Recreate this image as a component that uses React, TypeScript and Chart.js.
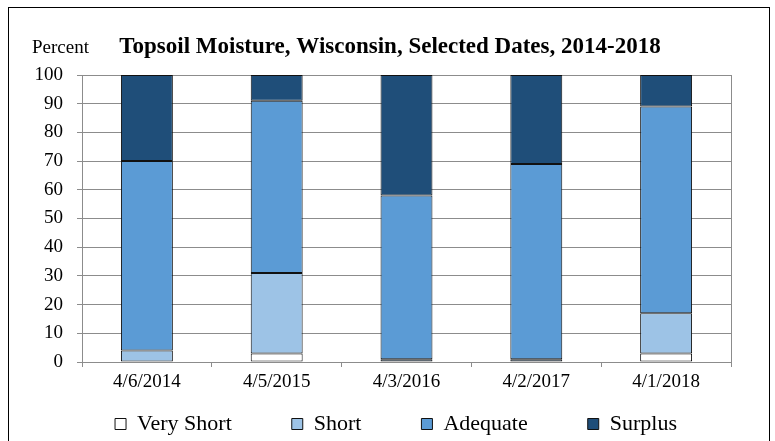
import React, { useEffect, useRef } from 'react';
import { Chart, registerables } from 'chart.js';

Chart.register(...registerables);

// ---- data ----
const categories = ['4/6/2014', '4/5/2015', '4/3/2016', '4/2/2017', '4/1/2018'];
const veryShort = [0, 3, 0, 0, 3];
const short = [4, 28, 1, 1, 14];
const adequate = [66, 60, 57, 68, 72];
const surplus = [30, 9, 42, 31, 11];
const seriesNames = ['Very Short', 'Short', 'Adequate', 'Surplus'];
const yMin = 0;
const yMax = 100;
const yStep = 10;
const chartTitle = 'Topsoil Moisture, Wisconsin, Selected Dates, 2014-2018';
const yUnitLabel = 'Percent';

// ---- style ----
const COLORS = ['#FFFFFF', '#9DC3E6', '#5B9BD5', '#1F4E79'];
const GRID = '#8C8C8C';
const FONT = "'Liberation Serif', 'Times New Roman', serif";
const LEGEND_PAD = 60;
const LEGEND_SHIFT_X = 21;

const titlePlugin = {
  id: 'titleAndBorder',
  afterDraw(chart: any) {
    const { ctx, chartArea } = chart;
    ctx.save();
    ctx.strokeStyle = GRID;
    ctx.lineWidth = 1;
    ctx.beginPath();
    const x = Math.round(chartArea.right) + 0.5;
    ctx.moveTo(x, chartArea.top);
    ctx.lineTo(x, chartArea.bottom);
    ctx.stroke();
    ctx.fillStyle = '#000';
    ctx.textBaseline = 'alphabetic';
    ctx.font = `bold 23px ${FONT}`;
    ctx.textAlign = 'center';
    ctx.fillText(chartTitle, 381, 45);
    ctx.font = `19px ${FONT}`;
    ctx.textAlign = 'left';
    ctx.fillText(yUnitLabel, 23, 45);
    ctx.restore();
  },
};

const legendLift = {
  id: 'legendLift',
  afterLayout(chart: any) {
    const lg = chart.legend;
    if (lg) {
      lg.top -= LEGEND_PAD;
      lg.left += LEGEND_SHIFT_X;
      lg.right += LEGEND_SHIFT_X;
    }
  },
};

export default function App() {
  const ref = useRef<HTMLCanvasElement | null>(null);

  useEffect(() => {
    if (!ref.current) return;
    const values = [veryShort, short, adequate, surplus];
    const chart = new Chart(ref.current, {
      type: 'bar',
      data: {
        labels: categories,
        datasets: seriesNames.map((name, i) => ({
          label: name,
          data: values[i],
          backgroundColor: COLORS[i],
          borderColor: '#111111',
          borderWidth: 1,
          borderSkipped: false,
          barPercentage: 0.4,
          categoryPercentage: 1,
        })),
      },
      options: {
        responsive: false,
        animation: false,
        devicePixelRatio: 1,
        color: '#000',
        font: { family: FONT },
        layout: { padding: { left: 10, right: 38, top: 67, bottom: 0 } },
        plugins: {
          title: { display: false },
          tooltip: { enabled: false },
          legend: {
            display: true,
            position: 'bottom',
            maxHeight: 32,
            labels: {
              boxWidth: 11,
              boxHeight: 11,
              padding: LEGEND_PAD,
              color: '#000',
              font: { family: FONT, size: 22 },
            },
          },
        },
        scales: {
          x: {
            stacked: true,
            grid: {
              display: true,
              drawOnChartArea: false,
              drawTicks: true,
              tickLength: 5,
              color: GRID,
              offset: true,
            },
            border: { display: true, color: GRID },
            ticks: {
              color: '#000',
              font: { family: FONT, size: 19 },
              padding: 4,
              maxRotation: 0,
            },
            afterFit: (scale: any) => {
              scale.height = 51;
            },
          },
          y: {
            stacked: true,
            min: yMin,
            max: yMax,
            grid: {
              color: GRID,
              tickLength: 5,
              drawTicks: true,
            },
            border: { display: true, color: GRID },
            ticks: {
              stepSize: yStep,
              color: '#000',
              font: { family: FONT, size: 19 },
              padding: 14,
            },
            afterFit: (scale: any) => {
              scale.width = 63;
            },
          },
        },
      },
      plugins: [titlePlugin, legendLift],
    });
    return () => chart.destroy();
  }, []);

  return (
    <div style={{ position: 'fixed', left: 0, top: 0, width: '100vw', height: '100vh', overflow: 'hidden', background: '#fff' }}>
      <div
        style={{
          position: 'absolute',
          left: 8,
          top: 7,
          width: 760,
          height: 437,
          border: '1px solid #000',
        }}
      >
        <canvas ref={ref} width={760} height={437} style={{ display: 'block', width: 760, height: 437 }} />
      </div>
    </div>
  );
}
